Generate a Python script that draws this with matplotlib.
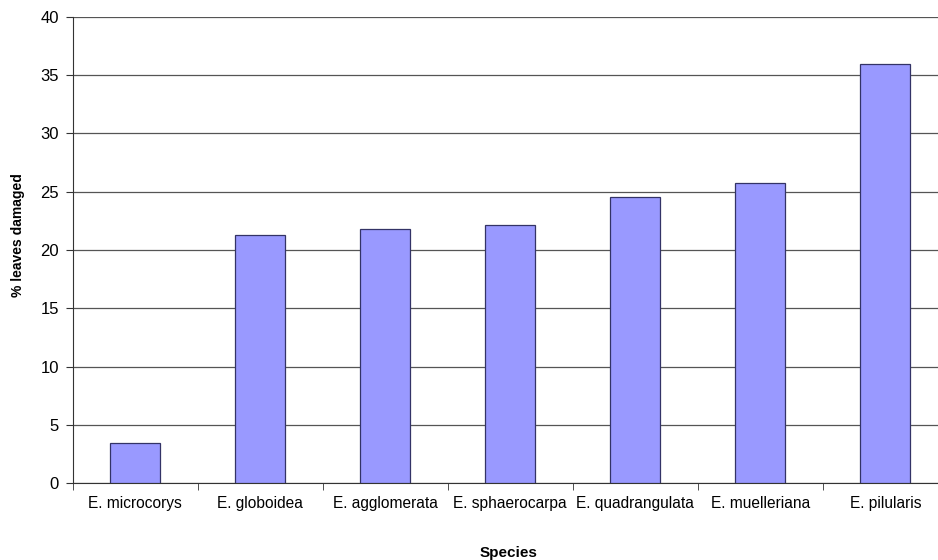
import matplotlib.pyplot as plt
import numpy as np

species = ["E. microcorys", "E. globoidea", "E. agglomerata", "E. sphaerocarpa",
           "E. quadrangulata", "E. muelleriana", "E. pilularis"]
damaged = [3.45, 21.25, 21.8, 22.1, 24.5, 25.7, 35.9]
y_ticks = [0, 5, 10, 15, 20, 25, 30, 35, 40]

plt.rcParams["font.family"] = ["Liberation Sans", "DejaVu Sans"]

fig = plt.figure(figsize=(9.38, 5.6), dpi=100)
ax = fig.add_axes([0.0775, 0.137, 0.933, 0.8334])

x = np.arange(len(species))
ax.bar(x, damaged, width=0.4, color="#9999ff", edgecolor="#333366",
       linewidth=0.9, zorder=3)

ax.set_xlim(-0.5, len(species) - 0.5)
ax.set_ylim(0, 40)
ax.set_yticks(y_ticks)
ax.yaxis.grid(True, color="#555555", linewidth=0.9, zorder=0)

ax.set_xticks(x)
ax.set_xticklabels(species, fontsize=11.2)
ax.set_xticks(np.arange(len(species) + 1) - 0.5, minor=True)
ax.tick_params(axis="x", which="major", length=0, pad=9)
ax.tick_params(axis="x", which="minor", length=5, direction="out", color="#333333")
ax.tick_params(axis="y", length=5, direction="out", labelsize=12, pad=5,
               color="#333333")

for side in ["top", "right"]:
    ax.spines[side].set_visible(False)
ax.spines["left"].set_color("#333333")
ax.spines["bottom"].set_color("#333333")

fig.text(0.019, 0.58, "% leaves damaged", rotation=90, fontsize=10,
         fontweight="bold", ha="center", va="center")
fig.text(0.542, 0.013, "Species", fontsize=11, fontweight="bold",
         ha="center", va="center")

fig.savefig("out.png", dpi=100)
